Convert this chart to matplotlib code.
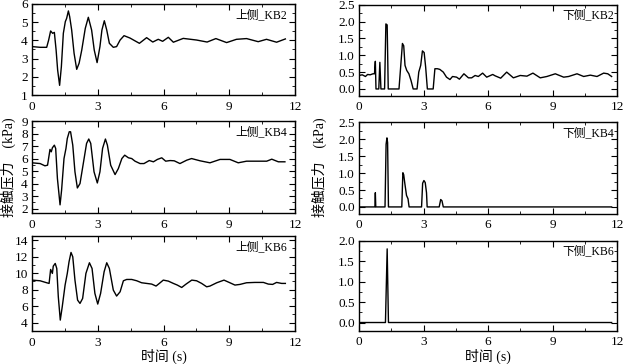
import matplotlib
matplotlib.use("Agg")
import matplotlib.pyplot as plt
from matplotlib.ticker import MultipleLocator, FormatStrFormatter

# time (s) and contact pressure (kPa)
t_up_kb2 = [0.0, 0.37, 0.67, 0.76, 0.85, 0.94, 1.02, 1.10, 1.17, 1.26, 1.34, 1.43, 1.52, 1.58,
            1.66, 1.72, 1.81, 1.92, 2.04, 2.15, 2.27, 2.43, 2.57, 2.72, 2.84, 2.97, 3.10, 3.19,
            3.30, 3.41, 3.53, 3.71, 3.86, 4.02, 4.20, 4.47, 4.90, 5.23, 5.51, 5.76, 5.96, 6.22,
            6.45, 6.90, 7.51, 7.99, 8.39, 8.88, 9.33, 9.79, 10.32, 10.70, 11.16, 11.56]
p_up_kb2 = [3.66, 3.62, 3.62, 4.02, 4.52, 4.39, 4.44, 3.47, 2.37, 1.53, 2.56, 4.39, 5.03, 5.21,
            5.62, 5.30, 4.57, 3.29, 2.41, 2.75, 3.47, 4.66, 5.27, 4.57, 3.47, 2.78, 3.66, 4.57,
            5.08, 4.57, 3.84, 3.62, 3.66, 4.02, 4.26, 4.13, 3.84, 4.15, 3.91, 4.06, 3.95, 4.17,
            3.90, 4.11, 4.02, 3.91, 4.10, 3.88, 4.06, 4.10, 3.93, 4.06, 3.90, 4.08]

t_up_kb4 = [0.0, 0.37, 0.59, 0.71, 0.82, 0.88, 0.93, 1.02, 1.08, 1.16, 1.28, 1.35, 1.46, 1.55,
            1.61, 1.70, 1.76, 1.86, 1.96, 2.07, 2.19, 2.34, 2.49, 2.59, 2.68, 2.83, 2.98, 3.10,
            3.22, 3.35, 3.44, 3.59, 3.79, 3.94, 4.10, 4.23, 4.40, 4.55, 4.70, 4.93, 5.11, 5.35,
            5.54, 5.72, 5.92, 6.10, 6.30, 6.49, 6.75, 7.06, 7.28, 7.67, 8.12, 8.58, 9.03, 9.41,
            9.79, 10.25, 10.71, 10.94, 11.24, 11.54]
p_up_kb4 = [5.66, 5.60, 5.42, 5.47, 6.73, 6.54, 6.86, 7.07, 6.81, 4.40, 2.30, 3.47, 6.00, 6.81,
            7.60, 8.14, 8.14, 7.07, 4.94, 3.65, 4.00, 5.60, 7.21, 7.56, 7.21, 4.94, 4.05, 4.94,
            6.81, 7.56, 7.07, 5.47, 4.72, 5.20, 6.00, 6.27, 6.06, 6.00, 5.79, 5.60, 5.60, 5.84,
            5.74, 5.93, 6.06, 5.79, 5.84, 5.82, 5.60, 5.87, 6.00, 5.82, 5.66, 5.93, 5.93, 5.66,
            5.79, 5.79, 5.79, 5.95, 5.74, 5.74]

t_up_kb6 = [0.0, 0.37, 0.67, 0.78, 0.85, 0.93, 0.97, 1.06, 1.13, 1.20, 1.29, 1.38, 1.51, 1.61,
            1.69, 1.78, 1.86, 1.96, 2.08, 2.19, 2.31, 2.46, 2.62, 2.74, 2.87, 3.00, 3.13, 3.29,
            3.41, 3.53, 3.71, 3.86, 4.02, 4.17, 4.32, 4.55, 4.78, 5.00, 5.23, 5.46, 5.66, 5.81,
            5.99, 6.22, 6.45, 6.63, 6.83, 7.03, 7.29, 7.51, 7.74, 7.97, 8.12, 8.43, 8.76, 9.03,
            9.26, 9.49, 9.79, 10.17, 10.56, 10.78, 10.98, 11.16, 11.39, 11.56]
p_up_kb6 = [9.16, 9.08, 8.84, 8.76, 10.45, 9.97, 10.85, 11.18, 10.57, 7.15, 4.32, 5.94, 8.56,
            9.97, 11.38, 12.51, 11.98, 9.16, 6.74, 6.34, 6.94, 9.97, 11.26, 10.57, 7.55, 6.26,
            7.55, 10.17, 11.26, 10.57, 7.95, 7.23, 7.75, 9.08, 9.24, 9.24, 9.08, 8.84, 8.76,
            8.68, 8.44, 8.76, 9.16, 9.04, 8.76, 8.56, 8.27, 8.68, 9.16, 9.08, 8.76, 8.35, 8.44,
            8.84, 9.16, 8.84, 8.56, 8.64, 8.84, 8.88, 8.88, 8.68, 8.64, 8.88, 8.76, 8.76]

t_dn_kb2 = [0.0, 0.15, 0.3, 0.4, 0.52, 0.65, 0.72, 0.76, 0.79, 0.92, 0.97, 1.02, 1.19, 1.25,
            1.31, 1.36, 1.86, 2.02, 2.08, 2.14, 2.22, 2.32, 2.42, 2.52, 2.70, 2.78, 2.87, 2.95,
            3.03, 3.10, 3.18, 3.45, 3.53, 3.65, 3.76, 3.92, 4.07, 4.23, 4.35, 4.54, 4.67, 4.88,
            5.09, 5.24, 5.40, 5.55, 5.75, 5.94, 6.22, 6.33, 6.59, 6.87, 7.18, 7.50, 7.81, 8.09,
            8.43, 8.74, 9.13, 9.52, 9.75, 10.14, 10.45, 10.76, 11.07, 11.38, 11.57, 11.75]
p_dn_kb2 = [0.40, 0.42, 0.37, 0.43, 0.42, 0.45, 0.45, 0.82, 0.0, 0.0, 0.79, 0.0, 0.0, 1.93,
            1.90, 0.0, 0.0, 1.35, 1.28, 0.70, 0.55, 0.45, 0.25, 0.0, 0.0, 0.50, 0.70, 1.13,
            1.08, 0.65, 0.0, 0.0, 0.60, 0.60, 0.58, 0.50, 0.35, 0.28, 0.37, 0.35, 0.29, 0.45,
            0.33, 0.33, 0.40, 0.37, 0.47, 0.35, 0.43, 0.39, 0.32, 0.50, 0.33, 0.40, 0.38, 0.47,
            0.33, 0.37, 0.45, 0.35, 0.37, 0.45, 0.37, 0.41, 0.37, 0.47, 0.45, 0.37]

t_dn_kb4 = [0.0, 0.74, 0.76, 0.78, 1.21, 1.26, 1.30, 1.33, 1.37, 1.99, 2.04, 2.08, 2.13, 2.21,
            2.28, 2.33, 2.91, 2.96, 3.02, 3.08, 3.14, 3.17, 3.73, 3.80, 3.86, 3.92, 11.75]
p_dn_kb4 = [0.0, 0.0, 0.42, 0.0, 0.0, 1.85, 2.04, 1.90, 0.0, 0.0, 1.01, 0.95, 0.70, 0.34,
            0.24, 0.0, 0.0, 0.70, 0.78, 0.72, 0.42, 0.0, 0.0, 0.22, 0.18, 0.0, 0.0]

t_dn_kb6 = [0.0, 1.23, 1.31, 1.37, 11.75]
p_dn_kb6 = [0.0, 0.0, 1.80, 0.0, 0.0]

W, H = 626, 364
plt.rcParams.update({
    "font.family": ["Liberation Serif", "Noto Sans CJK SC"],
    "font.size": 9.5,
    "axes.linewidth": 1.0,
    "xtick.direction": "in",
    "ytick.direction": "in",
    "xtick.major.size": 4,
    "ytick.major.size": 4,
    "xtick.minor.size": 2.2,
    "ytick.minor.size": 2.2,
    "xtick.major.pad": 4,
    "ytick.major.pad": 3,
})


def box(left, right, top, bottom):
    return [left / W, 1 - bottom / H, (right - left) / W, (bottom - top) / H]


panels = [
    (t_up_kb2, p_up_kb2, "上侧_KB2", box(32, 295, 4, 95), (1, 6), 1, 0.5, "%d"),
    (t_up_kb4, p_up_kb4, "上侧_KB4", box(32, 295, 121, 213), (1.65, 9), 1, 0.5, "%d"),
    (t_up_kb6, p_up_kb6, "上侧_KB6", box(32, 295, 236, 331), (3, 14.5), 2, 1, "%d"),
    (t_dn_kb2, p_dn_kb2, "下侧_KB2", box(359, 617, 4.7, 95.7), (-0.2, 2.5), 0.5, 0.25, "%.1f"),
    (t_dn_kb4, p_dn_kb4, "下侧_KB4", box(359, 617, 122.3, 213.7), (-0.2, 2.5), 0.5, 0.25, "%.1f"),
    (t_dn_kb6, p_dn_kb6, "下侧_KB6", box(359, 617, 240.7, 330.7), (-0.2, 2.0), 0.5, 0.25, "%.1f"),
]

fig = plt.figure(figsize=(W / 100, H / 100), dpi=100, facecolor="white")
for t, p, name, rect, ylim, major, minor, fmt in panels:
    ax = fig.add_axes(rect)
    ax.plot(t, p, color="black", linewidth=1.0)
    ax.set_xlim(0, 12)
    ax.set_ylim(*ylim)
    ax.xaxis.set_major_locator(MultipleLocator(3))
    ax.xaxis.set_minor_locator(MultipleLocator(1.5))
    ax.yaxis.set_major_locator(MultipleLocator(major))
    ax.yaxis.set_minor_locator(MultipleLocator(minor))
    ax.yaxis.set_major_formatter(FormatStrFormatter(fmt))
    ax.tick_params(which="both", top=True, right=True)
    x_text = 0.97 if name.startswith("上") else 0.99
    ax.text(x_text, 0.88, name, transform=ax.transAxes, ha="right", va="center", fontsize=8.5)

ylabel = "接触压力\u3000(kPa)"
fig.text(8 / W, 1 - 167 / H, ylabel, rotation=90, ha="center", va="center", fontsize=10)
fig.text(319 / W, 1 - 167 / H, ylabel, rotation=90, ha="center", va="center", fontsize=10)
fig.text(163.5 / W, 1 - 356 / H, "时间 (s)", ha="center", va="center", fontsize=10)
fig.text(488 / W, 1 - 356 / H, "时间 (s)", ha="center", va="center", fontsize=10)

fig.savefig("out.png", dpi=100, facecolor="white")
